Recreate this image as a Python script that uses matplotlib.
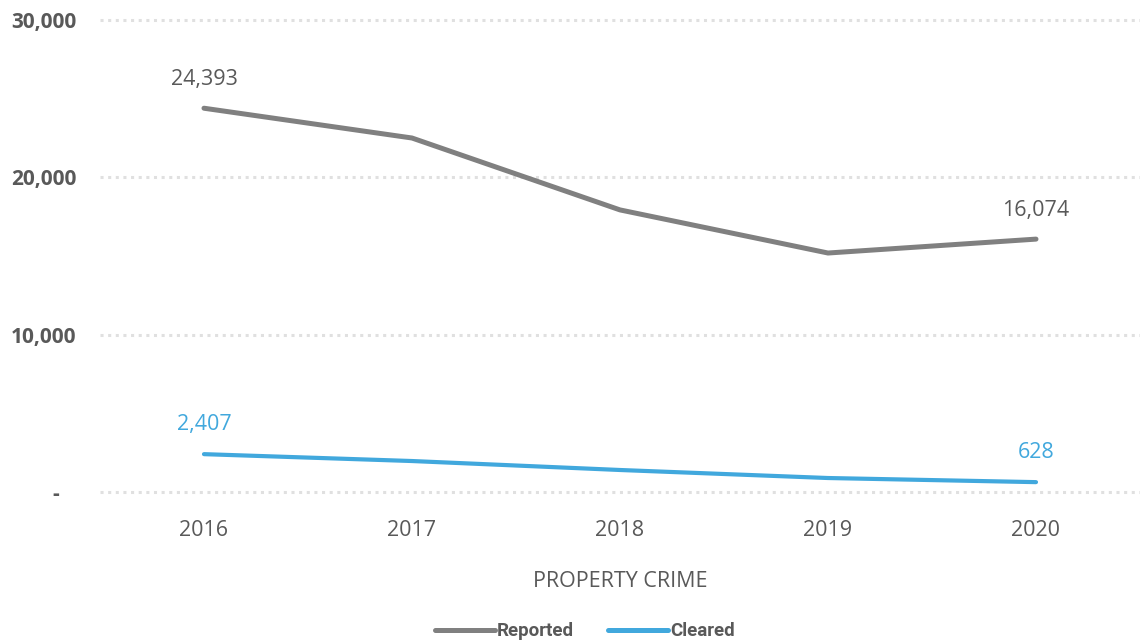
import matplotlib.pyplot as plt
from matplotlib.ticker import FuncFormatter

years = ['2016', '2017', '2018', '2019', '2020']
reported = [24393, 22500, 17930, 15190, 16074]
cleared = [2407, 1970, 1400, 890, 628]
y_ticks = [0, 10000, 20000, 30000]

grey = '#808080'
blue = '#41A8DD'
text_grey = '#595959'

fig = plt.figure(figsize=(11.4, 6.43), dpi=100)
ax = fig.add_axes([0.0877, 0.2348, 0.9123, 0.7341])

x = list(range(len(years)))
ax.plot(x, reported, color=grey, lw=3.6, solid_capstyle='round', label='Reported')
ax.plot(x, cleared, color=blue, lw=3.0, solid_capstyle='round', label='Cleared')

# labels only on first and last points
for i in [0, len(years) - 1]:
    ax.annotate(f'{reported[i]:,}', (i, reported[i]), xytext=(0, 13), textcoords='offset points',
                ha='center', va='bottom', fontsize=15.5, color=text_grey, family='Open Sans')
    ax.annotate(f'{cleared[i]:,}', (i, cleared[i]), xytext=(0, 14), textcoords='offset points',
                ha='center', va='bottom', fontsize=15.5, color=blue, family='Open Sans')

ax.set_xlim(-0.5, len(years) - 0.5)
ax.set_ylim(0, 30000)
ax.set_xticks(x)
ax.set_xticklabels(years, fontsize=15.5, color=text_grey, family='Open Sans')
ax.set_yticks(y_ticks)
ax.yaxis.set_major_formatter(FuncFormatter(lambda v, p: f'{int(v):,}' if v else '-   '))
for lbl in ax.get_yticklabels():
    lbl.set_fontsize(15)
    lbl.set_fontweight('bold')
    lbl.set_color(text_grey)
    lbl.set_family('Open Sans')
ax.tick_params(axis='y', length=0, pad=17)
ax.tick_params(axis='x', length=0, pad=20)
ax.set_xlabel('PROPERTY CRIME', fontsize=15.5, color=text_grey, family='Open Sans', labelpad=22)

ax.grid(axis='y', color='#E0E0E0', linestyle=(0, (1, 1.5)), linewidth=2.2)
for gl in ax.get_ygridlines():
    gl.set_clip_on(False)
ax.set_axisbelow(True)
for s in ax.spines.values():
    s.set_visible(False)

leg = fig.legend(loc='lower center', bbox_to_anchor=(0.513, -0.022), ncol=2, frameon=False,
                 handlelength=3.2, handletextpad=0.1, columnspacing=1.8,
                 prop={'family': 'Roboto', 'weight': 'bold', 'size': 13.5})
for t in leg.get_texts():
    t.set_color(text_grey)
for h in leg.get_lines():
    h.set_linewidth(3.6)

fig.savefig('out.png', dpi=100)
